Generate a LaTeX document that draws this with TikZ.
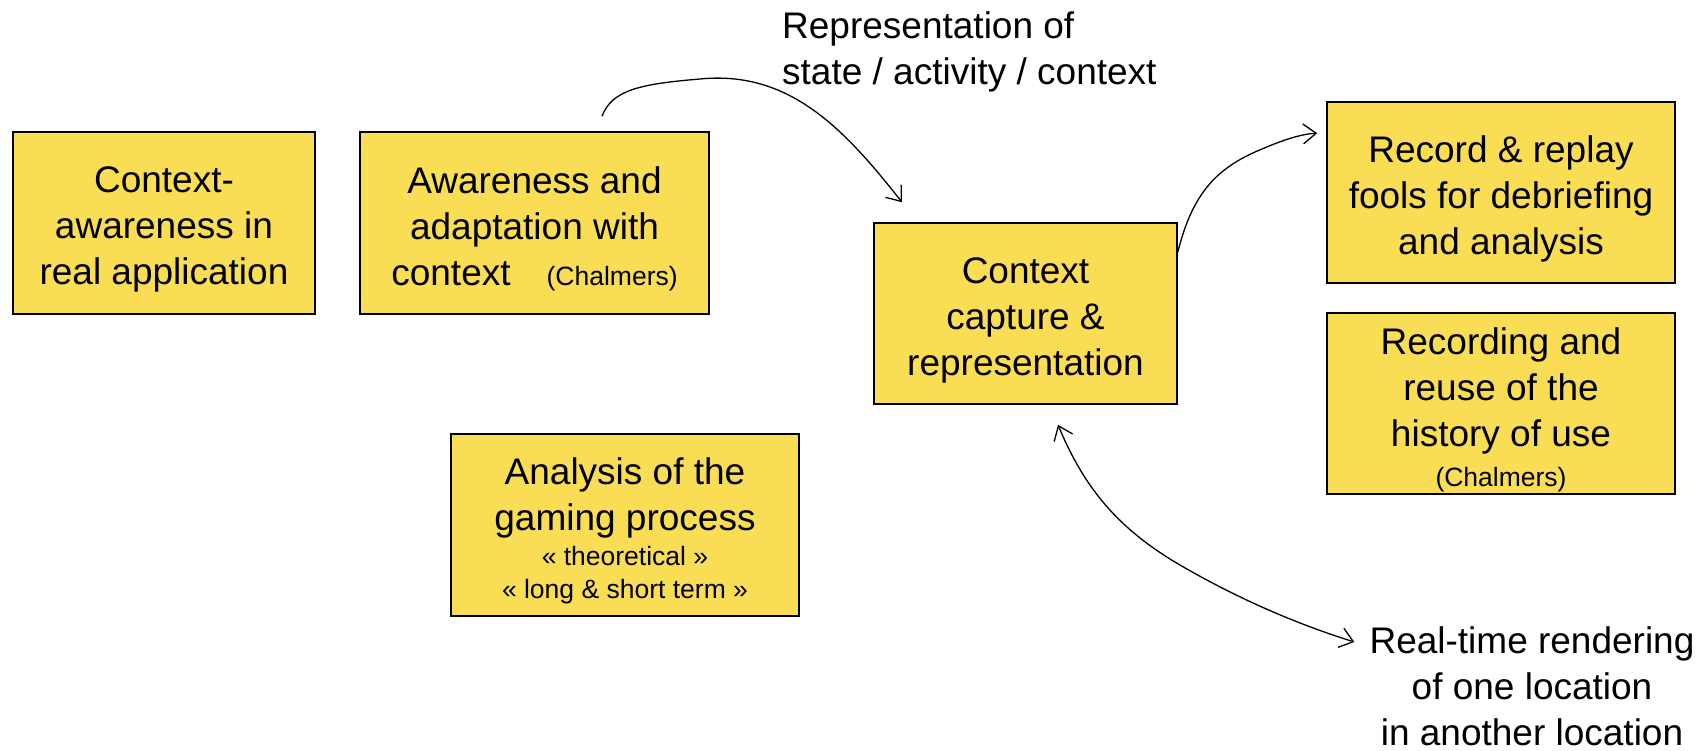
\documentclass[tikz,border=0pt]{standalone}
\usepackage{fontspec}
\setmainfont{Liberation Sans}
\usetikzlibrary{arrows.meta}
\usepackage{xcolor}
\definecolor{amarillo}{HTML}{F9DE55}
\newcommand{\grande}{\fontsize{37}{46}\selectfont}
\newcommand{\chico}{\fontsize{26.5}{32}\selectfont}
\newcommand{\alto}{\rule{0pt}{39pt}}

\begin{document}
\begin{tikzpicture}[x=1pt,y=-1pt,
        caja/.style={draw=black,line width=1.6pt,fill=amarillo,align=center,inner sep=0pt,font=\grande},
        texto/.style={inner sep=0pt,font=\grande},
        flecha/.style={line width=1.3pt,>={Straight Barb[length=13pt,width=20pt]}}]
        \useasboundingbox (0,0) rectangle (1707,750);
        % cajas
        \node[caja,minimum width=302pt,minimum height=182pt] (ctxreal) at (164,223) {\alto Context-\\awareness in\\real application};
        \node[caja,minimum width=349pt,minimum height=182pt] (aware) at (534.5,223) {\alto Awareness and\\adaptation with\\context\hspace*{36pt}{\chico(Chalmers)}};
        \node[caja,minimum width=303pt,minimum height=181pt] (capture) at (1025.5,313.5) {\alto Context\\capture \&\\representation};
        \node[caja,minimum width=348pt,minimum height=181pt] (replay) at (1501,192.5) {\alto Record \& replay\\fools for debriefing\\and analysis};
        \node[caja,minimum width=348pt,minimum height=181pt] (reuse) at (1501,403.5) {\alto Recording and\\reuse of the\\history of use\\[-6pt]{\chico(Chalmers)}};
        \node[caja,minimum width=348pt,minimum height=182pt] (gaming) at (625,525) {\alto Analysis of the\\gaming process\\[-11pt]{\chico« theoretical »}\\[-13pt]{\chico« long \& short term »}};
        % textos sueltos
        \node[texto,anchor=west,align=left] (repr) at (782,52) {Representation of\\state / activity / context};
        \node[texto,align=center] (render) at (1532,686) {Real-time rendering\\of one location\\in another location};
        % flechas
        \draw[flecha,->] ([shift={(67.5,-15)}]aware.north) .. controls (612,90) and (640,84) .. (700,79)
                .. controls (790,70) and (845,130) .. ([shift={(-123.5,-20)}]capture.north);
        \draw[flecha,->] ([shift={(0,30)}]capture.north east) .. controls (1192,195) and (1215,170) .. (1255,152)
                .. controls (1280,141) and (1300,134) .. ([shift={(-9,32)}]replay.north west);
        \draw[flecha,<->] ([shift={(32.5,20)}]capture.south) .. controls (1085,490) and (1120,530) .. (1180,565)
                .. controls (1240,600) and (1300,625) .. ([shift={(-15,-44)}]render.west);
\end{tikzpicture}
\end{document}
